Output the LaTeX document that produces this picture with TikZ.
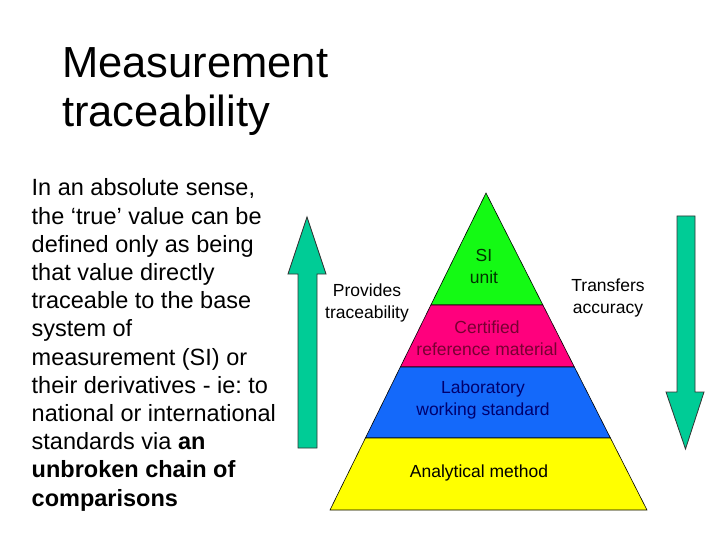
\documentclass[tikz,border=0pt]{standalone}
\usepackage{fontspec}
\setmainfont{Liberation Sans}
\usetikzlibrary{calc}
\frenchspacing
\definecolor{sigreen}{RGB}{20,250,20}
\definecolor{crmpink}{RGB}{255,0,125}
\definecolor{labblue}{RGB}{20,105,250}
\definecolor{anayellow}{RGB}{255,255,0}
\definecolor{arrowteal}{RGB}{0,204,150}
\tikzset{
    pyrtext/.style={anchor=base,align=center,inner sep=0pt,font=\fontsize{17.5}{21.5}\selectfont},
    blockarrow/.style={fill=arrowteal,draw=black!80,line width=0.8pt,line join=miter}
}
\begin{document}
\begin{tikzpicture}[x=1pt,y=-1pt]
                \fill[white] (0,0) rectangle (720,540);
                \useasboundingbox (0,0) rectangle (720,540);
                % title and text on the left (base = last line)
                \node[anchor=base west,inner sep=0pt,align=left,font=\fontsize{43.5}{49.5}\selectfont]
                    (title) at (62,127) {Measurement\\traceability};
                \node[anchor=base west,inner sep=0pt,align=left,font=\fontsize{23.5}{28.2}\selectfont]
                    (body) at (31.5,506) {In an absolute sense,\\the ‘true’ value can be\\defined only as being\\that value directly\\traceable to the base\\system of\\measurement (SI) or\\their derivatives - ie: to\\national or international\\standards via \textbf{an}\\\textbf{unbroken chain of}\\\textbf{comparisons}};
                % the pyramid
                \coordinate (apex) at (486,193);
                \coordinate (bl) at (330,510);
                \coordinate (br) at (647,510);
                \foreach \a/\b/\c in {0/0.3533/sigreen,0.3533/0.5489/crmpink,0.5489/0.7729/labblue,0.7729/1/anayellow}{
                    \draw[fill=\c,line width=0.6pt] ($(apex)!\a!(bl)$) -- ($(apex)!\b!(bl)$) -- ($(apex)!\b!(br)$) -- ($(apex)!\a!(br)$) -- cycle;
                }
                \node[pyrtext,text=black!80!green] (si) at (484,283) {SI\\unit};
                \node[pyrtext,text={rgb,255:red,120;green,0;blue,50}] (crm) at (487,355) {Certified\\reference material};
                \node[pyrtext,text={rgb,255:red,0;green,0;blue,110}] (lab) at (483,415) {Laboratory\\working standard};
                \node[pyrtext] (ana) at (479,477) {Analytical method};
                % the two arrows
                \draw[blockarrow] (307,217) -- (326,274) -- (317,274) -- (317,448) -- (298,448) -- (298,274) -- (288,274) -- cycle;
                \draw[blockarrow] (685.5,449) -- (704,392) -- (695,392) -- (695,216) -- (677,216) -- (677,392) -- (666,392) -- cycle;
                \node[pyrtext] (prov) at (367,318) {Provides\\traceability};
                \node[pyrtext] (trans) at (608,313) {Transfers\\accuracy};
\end{tikzpicture}
\end{document}
